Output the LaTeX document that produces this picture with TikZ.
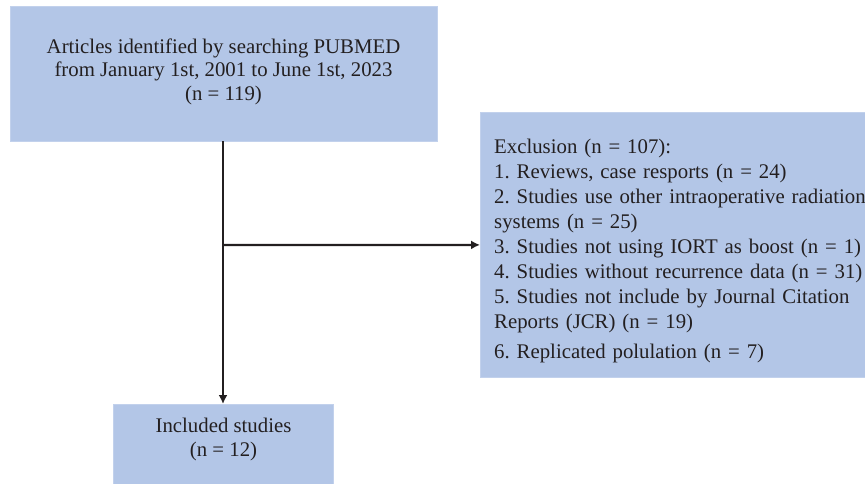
\documentclass[tikz,border=0pt]{standalone}
\usepackage{fontspec}
\setmainfont{Liberation Serif}
\usetikzlibrary{arrows.meta}
\definecolor{boxblue}{HTML}{B3C6E7}
\definecolor{txt}{HTML}{231F20}
\tikzset{
  box/.style={draw=boxblue!80!white, line width=0.8pt, fill=boxblue, inner sep=0pt},
  label/.style={text=txt, inner sep=0pt, font=\fontsize{20.8}{23.5}\selectfont\frenchspacing},
  conn/.style={draw=txt, line width=2.2pt, -{Latex[length=9pt,width=9pt]}},
}
\begin{document}
\begin{tikzpicture}[x=1pt,y=-1pt]
\useasboundingbox (0,0) rectangle (865,483);
\clip (0,0) rectangle (865,483);
\node[box, minimum width=427pt, minimum height=135pt] (top) at (223.5,73.5) {};
\node[label, align=center] (toptext) at (223.5,71.5)
  {Articles identified by searching PUBMED\\from January 1st, 2001 to June 1st, 2023\\(n = 119)};
\node[box, minimum width=400pt, minimum height=265pt, anchor=north west] (excl) at (480,112) {};
\node[label, anchor=north west, align=left, text width=400pt, font=\fontsize{20.8}{25}\selectfont\frenchspacing] (excltext) at (494,139)
  {Exclusion (n = 107):\\
   1. Reviews, case resports (n = 24)\\
   2. Studies use other intraoperative radiation\\
   systems (n = 25)\\
   3. Studies not using IORT as boost (n = 1)\\
   4. Studies without recurrence data (n = 31)\\
   5. Studies not include by Journal Citation\\
   Reports (JCR) (n = 19)\\[5pt]
   6. Replicated polulation (n = 7)};
\node[box, minimum width=220pt, minimum height=100pt, anchor=north west] (inc) at (113,404) {};
\node[label, align=center, anchor=north] (inctext) at (223.5,418) {Included studies\\(n = 12)};
\coordinate (split) at (223,245);
\draw[conn] (top.south -| split) -- (inc.north -| split);
\draw[conn] (split) -- (excl.west);
\end{tikzpicture}
\end{document}
